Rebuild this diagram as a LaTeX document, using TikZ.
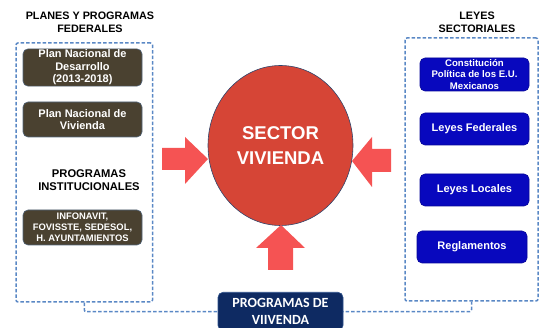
\documentclass[tikz,border=0pt]{standalone}
\usepackage{fontspec}
\setmainfont{Liberation Sans}
\newfontfamily\carlito{Carlito}
\usetikzlibrary{shapes.geometric,positioning,calc}

\definecolor{oliva}{HTML}{4A4130}
\definecolor{azulley}{HTML}{0808BE}
\definecolor{marino}{HTML}{0E2A62}
\definecolor{rojosec}{HTML}{D64536}
\definecolor{flechacol}{HTML}{F55353}
\definecolor{guion}{HTML}{5A88C5}

\begin{document}
\begin{tikzpicture}[x=1pt, y=-1pt,
    caja/.style={rectangle, rounded corners=5pt, line width=0.6pt, text=white, align=center, inner sep=1pt},
    olivebox/.style={caja, fill=oliva, draw=oliva!50!guion, minimum width=119pt, minimum height=35pt, font=\bfseries\fontsize{11}{12.5}\selectfont},
    bluebox/.style={caja, fill=azulley, draw=azulley!80!black, minimum width=109pt, minimum height=32pt, font=\bfseries\fontsize{11}{12.5}\selectfont},
    titulo/.style={align=center, font=\bfseries\fontsize{10.8}{13}\selectfont},
    grupo/.style={draw=guion, line width=1.5pt, dash pattern=on 3.5pt off 2pt, rounded corners=2pt},
    flecha/.style={fill=flechacol, draw=none}]
  \useasboundingbox (0,0) rectangle (542,328);
  \clip (0,0) rectangle (542,328);

  % grupos punteados
  \node[grupo, minimum width=136.5pt, minimum height=259pt] (gizq) at (84.25,172.5) {};
  \node[grupo, minimum width=133pt, minimum height=263pt] (gder) at (471.5,169.5) {};
  \draw[grupo] (gizq.south) -- ++(0,9) -| (gder.south);

  % lado izquierdo
  \node[titulo] (tplanes) at (90,22) {PLANES Y PROGRAMAS\\FEDERALES};
  \node[olivebox] (pnd) at (82.5,67.5) {Plan Nacional de\\Desarrollo\\(2013-2018)};
  \node[olivebox] (pnv) at (82.5,119.5) {Plan Nacional de\\Vivienda};
  \node[titulo, font=\bfseries\fontsize{11.2}{13}\selectfont] (tinst) at (89,180.5) {PROGRAMAS\\INSTITUCIONALES};
  \node[olivebox, font=\bfseries\fontsize{9.4}{11}\selectfont] (inst) at (82.5,227.5) {INFONAVIT,\\FOVISSTE, SEDESOL,\\H. AYUNTAMIENTOS};

  % lado derecho
  \node[titulo] (tleyes) at (477,22.5) {LEYES\\SECTORIALES};
  \node[bluebox, minimum height=33pt, font=\bfseries\fontsize{9.6}{11.5}\selectfont] (const) at (474.5,74.5) {Constitución\\Política de los E.U.\\Mexicanos};
  \node[bluebox] (lfed) at (474.5,129) {Leyes Federales};
  \node[bluebox] (lloc) at (474.5,190) {Leyes Locales};
  \node[bluebox, minimum width=110pt] (regl) at (472,247) {Reglamentos};

  % centro
  \node[ellipse, fill=rojosec, draw=marino!70!gray, line width=0.6pt, minimum width=145pt, minimum height=160pt, inner sep=0pt,
        text=white, align=center, font=\bfseries\fontsize{18.5}{25}\selectfont] (sector) at (280.5,145.5) {SECTOR\\VIVIENDA};

  \fill[flecha] (162,148) -- (185,148) -- (185,137) -- (208,159) -- (185,184) -- (185,170) -- (162,170) -- cycle;
  \fill[flecha] (391,149) -- (372,149) -- (372,137) -- (352,161) -- (372,187) -- (372,172) -- (391,172) -- cycle;
  \fill[flecha] (268,270) -- (268,248) -- (256,248) -- (281,225) -- (305,248) -- (293,248) -- (293,270) -- cycle;

  \node[caja, fill=marino, draw=marino!60!guion, minimum width=125pt, inner ysep=6pt, anchor=north,
        font=\carlito\bfseries\fontsize{14}{17}\selectfont] (prog) at (280.5,292) {PROGRAMAS DE\\VIIVENDA};
\end{tikzpicture}
\end{document}
